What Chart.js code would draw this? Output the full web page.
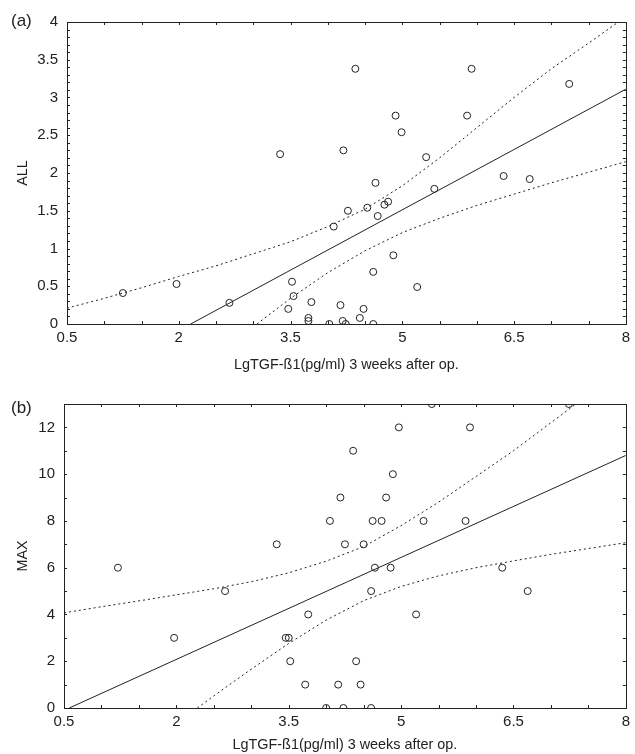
<!DOCTYPE html>
<html>
<head>
<meta charset="utf-8">
<script src="https://cdn.jsdelivr.net/npm/chart.js@4"></script>
<style>
  html, body { margin: 0; padding: 0; background: #fff; }
  body { width: 635px; height: 754px; overflow: hidden; position: relative; font-family: "Liberation Sans", Arial, sans-serif; }
  .panel { position: absolute; left: 0; width: 635px; height: 377px; }
  .tag { position: absolute; left: 11px; font-size: 17px; line-height: 1; color: #222; }
</style>
</head>
<body>
<div class="panel" style="top:0"><canvas id="chartA" width="635" height="377"></canvas></div>
<div class="panel" style="top:377px"><canvas id="chartB" width="635" height="377"></canvas></div>
<div class="tag" style="top:12px">(a)</div>
<div class="tag" style="top:399px">(b)</div>
<script>
// tick labels
const xTicks = [0.5, 2, 3.5, 5, 6.5, 8];
const allTicks = [0, 0.5, 1, 1.5, 2, 2.5, 3, 3.5, 4];
const maxTicks = [0, 2, 4, 6, 8, 10, 12];
const xTitle = 'LgTGF-ß1(pg/ml) 3 weeks after op.';

// panel (a) - ALL
const allX = [1.25, 1.97, 2.68, 3.36, 3.52, 3.54, 3.47, 3.78, 3.74, 3.74, 4.02, 4.17, 4.2, 4.24, 4.43, 4.48, 4.61, 4.61, 4.88, 5.2,
              4.08, 4.27, 4.53, 4.67, 4.76, 4.81, 4.64, 5.43, 4.21, 5.32, 4.91, 4.99, 5.87, 4.37, 5.93, 7.24, 6.36, 6.71];
const allY = [0.41, 0.53, 0.28, 2.25, 0.56, 0.37, 0.2, 0.29, 0.08, 0.04, 0, 0.25, 0.04, 0, 0.08, 0.2, 0, 0.69, 0.91, 0.49,
              1.29, 1.5, 1.54, 1.43, 1.58, 1.62, 1.87, 1.79, 2.3, 2.21, 2.76, 2.54, 2.76, 3.38, 3.38, 3.18, 1.96, 1.92];
const allFitX = [2.16, 8];
const allFitY = [0, 3.11];
const allUpperX = [0.5, 1, 1.5, 2, 2.5, 3, 3.5, 4, 4.5, 5, 5.5, 6, 6.5, 7, 7.5, 8];
const allUpperY = [0.21, 0.34, 0.48, 0.63, 0.77, 0.93, 1.09, 1.29, 1.52, 1.83, 2.2, 2.6, 3.0, 3.38, 3.72, 4.07];
const allLowerX = [3.05, 3.5, 4, 4.5, 5, 5.5, 6, 6.5, 7, 7.5, 8];
const allLowerY = [0, 0.34, 0.68, 0.97, 1.21, 1.4, 1.57, 1.72, 1.87, 2.01, 2.15];

// panel (b) - MAX
const maxX = [1.22, 1.97, 2.65, 3.46, 3.5, 3.52, 3.76, 3.72, 4.16, 4.46, 4.4, 4.0, 4.23, 4.6, 5.2, 4.6, 6.69, 6.35,
              4.65, 4.86, 5.41, 7.24, 4.97, 5.92, 4.36, 4.89, 4.19, 4.8, 4.05, 4.62, 4.74, 5.3, 5.86, 4.25, 4.5, 3.34];
const maxY = [6, 3, 5, 3, 3, 2, 4, 1, 1, 1, 2, 0, 0, 0, 4, 5, 5, 6,
              6, 6, 13, 13, 12, 12, 11, 10, 9, 9, 8, 8, 8, 8, 8, 7, 7, 7];
const maxFitX = [0.57, 8];
const maxFitY = [0, 10.8];
const maxUpperX = [0.5, 1, 1.5, 2, 2.5, 3, 3.5, 4, 4.5, 5, 5.5, 6, 6.5, 7, 7.5];
const maxUpperY = [4.07, 4.33, 4.58, 4.84, 5.1, 5.4, 5.78, 6.28, 6.9, 7.8, 8.8, 9.9, 11.0, 12.2, 13.4];
const maxLowerX = [2.28, 2.5, 3, 3.5, 4, 4.5, 5, 5.5, 6, 6.5, 7, 7.5, 8];
const maxLowerY = [0, 0.52, 1.66, 2.76, 3.76, 4.59, 5.2, 5.65, 6.0, 6.29, 6.57, 6.82, 7.07];

const ink = '#222';
const zip = (xs, ys) => xs.map((x, i) => ({ x: x, y: ys[i] }));

// box around the plot with small inward ticks
const framePlugin = {
    id: 'frame',
    afterDatasetsDraw(chart, args, opts) {
        const { ctx, chartArea: a, scales } = chart;
        const x = scales.x, y = scales.y;
        ctx.save();
        ctx.strokeStyle = ink;
        ctx.lineWidth = 1;
        ctx.strokeRect(Math.round(a.left) + 0.5, Math.round(a.top) + 0.5, Math.round(a.width), Math.round(a.height));
        ctx.beginPath();
        for (let v = x.min; v <= x.max + 1e-9; v += opts.xMinor) {
            const px = Math.round(x.getPixelForValue(v)) + 0.5;
            ctx.moveTo(px, a.bottom); ctx.lineTo(px, a.bottom - 3);
            ctx.moveTo(px, a.top); ctx.lineTo(px, a.top + 3);
        }
        for (let v = y.min; v <= y.max + 1e-9; v += opts.yMinor) {
            const py = Math.round(y.getPixelForValue(v)) + 0.5;
            ctx.moveTo(a.left, py); ctx.lineTo(a.left + 3, py);
            ctx.moveTo(a.right, py); ctx.lineTo(a.right - 3, py);
        }
        ctx.stroke();
        ctx.restore();
    }
};

function makePanel(canvasId, p) {
    new Chart(document.getElementById(canvasId), {
        type: 'scatter',
        data: {
            datasets: [
                { data: zip(p.px, p.py), pointStyle: 'circle', pointRadius: 3.5, borderColor: ink, borderWidth: 1, backgroundColor: 'rgba(0,0,0,0)' },
                { data: zip(p.fitX, p.fitY), showLine: true, pointRadius: 0, borderColor: ink, borderWidth: 1 },
                { data: zip(p.upX, p.upY), showLine: true, pointRadius: 0, borderColor: ink, borderWidth: 1, borderDash: [2, 3] },
                { data: zip(p.loX, p.loY), showLine: true, pointRadius: 0, borderColor: ink, borderWidth: 1, borderDash: [2, 3] }
            ]
        },
        options: {
            responsive: false,
            animation: false,
            events: [],
            layout: { padding: p.pad },
            plugins: {
                legend: { display: false },
                tooltip: { enabled: false },
                frame: { xMinor: 0.5, yMinor: p.yMinor }
            },
            scales: {
                x: {
                    type: 'linear', min: 0.5, max: 8,
                    afterBuildTicks: s => { s.ticks = xTicks.map(v => ({ value: v })); },
                    afterFit: s => { s.height = p.xHeight; },
                    grid: { display: false, drawTicks: false },
                    border: { display: false },
                    ticks: { padding: 5, color: ink, font: { family: 'Liberation Sans', size: 15 }, callback: v => String(v) },
                    title: { display: true, text: xTitle, color: ink, padding: 0, font: { family: 'Liberation Sans', size: 14.4 } }
                },
                y: {
                    type: 'linear', min: 0, max: p.yMax,
                    afterBuildTicks: s => { s.ticks = p.yTicks.map(v => ({ value: v })); },
                    afterFit: s => { s.width = p.yWidth; },
                    grid: { display: false, drawTicks: false },
                    border: { display: false },
                    ticks: { padding: 9, color: ink, font: { family: 'Liberation Sans', size: 15 }, callback: v => String(v) },
                    title: { display: true, text: p.yTitle, color: ink, padding: { top: 4, bottom: 0 }, font: { family: 'Liberation Sans', size: 14.4 } }
                }
            }
        },
        plugins: [framePlugin]
    });
}

document.addEventListener('DOMContentLoaded', () => {
    makePanel('chartA', {
        px: allX, py: allY, fitX: allFitX, fitY: allFitY,
        upX: allUpperX, upY: allUpperY, loX: allLowerX, loY: allLowerY,
        yTicks: allTicks, yMax: 4, yMinor: 0.1, yTitle: 'ALL',
        pad: { top: 22, right: 6, bottom: 3, left: 10 }, yWidth: 57, xHeight: 50
    });
    makePanel('chartB', {
        px: maxX, py: maxY, fitX: maxFitX, fitY: maxFitY,
        upX: maxUpperX, upY: maxUpperY, loX: maxLowerX, loY: maxLowerY,
        yTicks: maxTicks, yMax: 13, yMinor: 1, yTitle: 'MAX',
        pad: { top: 27, right: 5, bottom: 0, left: 10 }, yWidth: 54, xHeight: 46
    });
});
</script>
</body>
</html>
